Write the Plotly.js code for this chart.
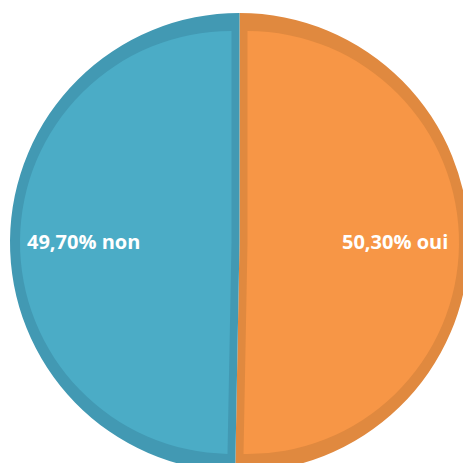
<!DOCTYPE html>
<html>
<head>
<meta charset="utf-8">
<script src="https://cdn.plot.ly/plotly-3.0.1.min.js"></script>
<style>
  html, body { margin: 0; padding: 0; background: #ffffff; overflow: hidden; }
  #chart { width: 480px; height: 480px; }
</style>
</head>
<body>
<div id="chart"></div>
<script>
// Data
const categories = ["oui", "non"];
const percentages = [50.30, 49.70];
const percentLabels = ["50,30%", "49,70%"];

// Styles
const fillColors = ["#f79646", "#4bacc6"];
const borderColors = ["#e0893f", "#4299b3"];

const W = 480, H = 480;
const cx = 239.5, cyTop = 242.5, R = 229.5;
const pullPx = 8, innerR = R - 10 - pullPx;
const pullFrac = pullPx / innerR;
const innerDomR = innerR * (1 + pullFrac);

function dom(r) {
  return {
    x: [(cx - r) / W, (cx + r) / W],
    y: [(H - cyTop - r) / H, (H - cyTop + r) / H]
  };
}

const texts = categories.map((c, i) => percentLabels[i] + " " + c);

const baseTrace = {
  type: "pie",
  labels: categories,
  values: percentages,
  sort: false,
  direction: "clockwise",
  rotation: 0,
  domain: dom(R),
  marker: { colors: borderColors, line: { width: 0 } },
  textinfo: "none",
  hoverinfo: "skip",
  showlegend: false
};

const fillTrace = {
  type: "pie",
  labels: categories,
  values: percentages,
  sort: false,
  direction: "clockwise",
  rotation: 0,
  domain: dom(innerDomR),
  pull: [pullFrac, pullFrac],
  marker: { colors: fillColors, line: { width: 0 } },
  textinfo: "none",
  hoverinfo: "skip",
  showlegend: false
};

// Label placement: along the horizontal bisector of each half, ~0.68 R from centre
const side = [1, -1];
const annotations = texts.map((t, i) => ({
  text: t,
  xref: "paper", yref: "paper",
  x: (cx + side[i] * 0.678 * R) / W,
  y: (H - cyTop + 1) / H,
  xanchor: "center", yanchor: "middle",
  showarrow: false,
  font: { family: "Open Sans, sans-serif", size: 20, color: "#ffffff", weight: "bold" }
}));

Plotly.newPlot("chart", [baseTrace, fillTrace], {
  width: W,
  height: H,
  margin: { l: 0, r: 0, t: 0, b: 0 },
  paper_bgcolor: "#ffffff",
  showlegend: false,
  annotations: annotations
}, { staticPlot: true });
</script>
</body>
</html>
